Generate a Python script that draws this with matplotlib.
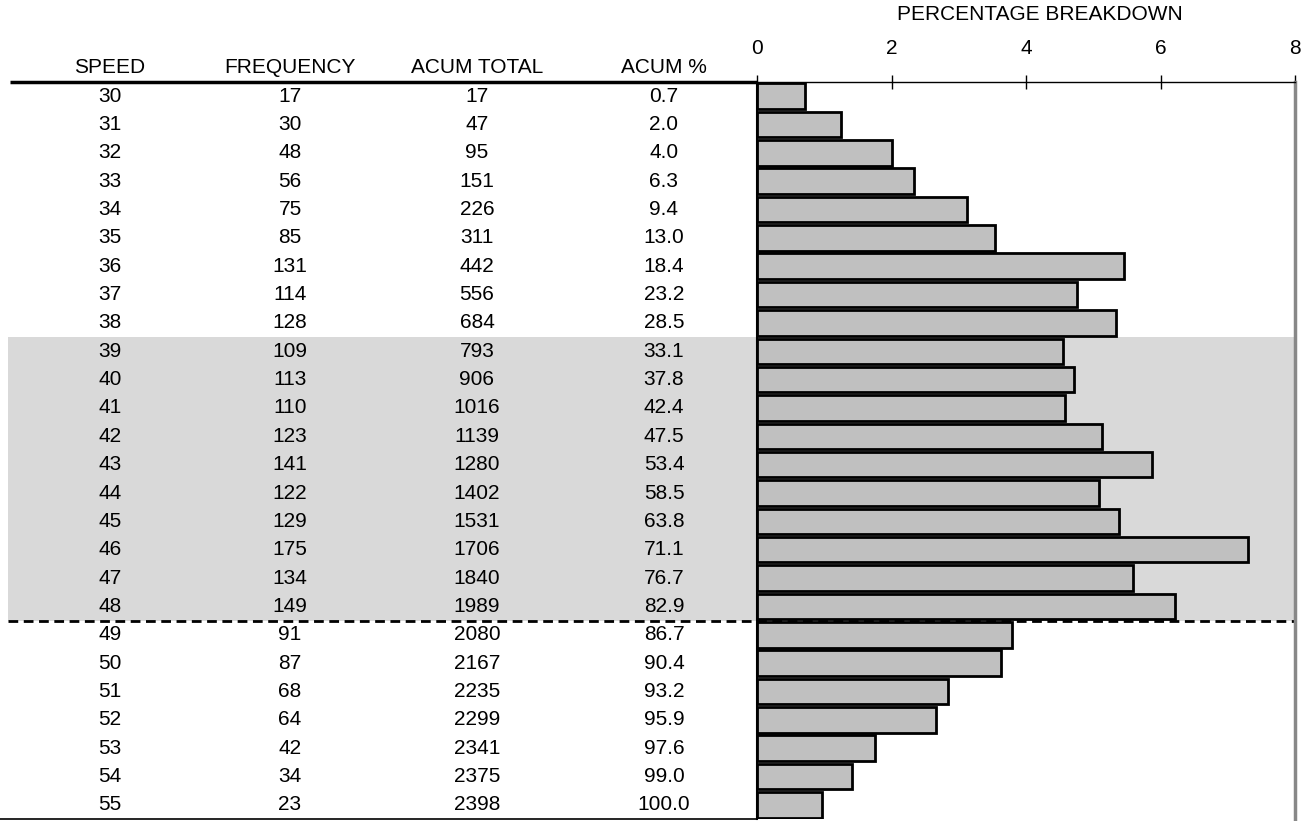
import numpy as np
import matplotlib
matplotlib.use("Agg")
import matplotlib.pyplot as plt

plt.rcParams['font.family'] = ['Liberation Sans', 'DejaVu Sans']

# dane z tabeli
speed = [30, 31, 32, 33, 34, 35, 36, 37, 38, 39, 40, 41, 42, 43,
         44, 45, 46, 47, 48, 49, 50, 51, 52, 53, 54, 55]
frequency = [17, 30, 48, 56, 75, 85, 131, 114, 128, 109, 113, 110, 123, 141,
             122, 129, 175, 134, 149, 91, 87, 68, 64, 42, 34, 23]
acum_total = [17, 47, 95, 151, 226, 311, 442, 556, 684, 793, 906, 1016, 1139, 1280,
              1402, 1531, 1706, 1840, 1989, 2080, 2167, 2235, 2299, 2341, 2375, 2398]
acum_pct = ["0.7", "2.0", "4.0", "6.3", "9.4", "13.0", "18.4", "23.2", "28.5", "33.1",
            "37.8", "42.4", "47.5", "53.4", "58.5", "63.8", "71.1", "76.7", "82.9", "86.7",
            "90.4", "93.2", "95.9", "97.6", "99.0", "100.0"]
headers = ["SPEED", "FREQUENCY", "ACUM TOTAL", "ACUM %"]
x_ticks = [0, 2, 4, 6, 8]
band_speeds = (39, 48)  # zaznaczony przedział

total = acum_total[-1]
pct = np.array(frequency) / total * 100
n = len(speed)
rows = np.arange(n)

W, H = 1310, 821
FS = 15
fig = plt.figure(figsize=(W / 100, H / 100), dpi=100)

top_px, bot_px = 82, 819
fb = 1 - bot_px / H
fh = (bot_px - top_px) / H

# oś tła z tabelą (x w pikselach)
ax_tab = fig.add_axes([0, fb, 1, fh], zorder=0)
ax_tab.set_xlim(0, W)
ax_tab.set_ylim(n - 0.5, -0.5)
ax_tab.axis("off")

i0 = speed.index(band_speeds[0])
i1 = speed.index(band_speeds[1])
ax_tab.fill_between([8, 1296], i0 - 0.5, i1 + 0.5, color="#d9d9d9", lw=0)
ax_tab.plot([8, 1296], [i1 + 0.5, i1 + 0.5], color="black", lw=2, ls=(0, (3.5, 2)))
ax_tab.plot([10, 757], [-0.5, -0.5], color="black", lw=2.5, solid_capstyle="butt", clip_on=False)
ax_tab.plot([0, 757], [n - 0.5, n - 0.5], color="black", lw=1.2, clip_on=False)

col_x = [110, 290, 477, 664]
for cx, h in zip(col_x, headers):
    ax_tab.text(cx, -1.0, h, ha="center", va="center", fontsize=FS, clip_on=False)
for i in rows:
    vals = [speed[i], frequency[i], acum_total[i], acum_pct[i]]
    for cx, v in zip(col_x, vals):
        ax_tab.text(cx, i, str(v), ha="center", va="center", fontsize=FS)

# wykres słupkowy
ax = fig.add_axes([757 / W, fb, (1295 - 757) / W, fh], zorder=1)
ax.patch.set_alpha(0)
ax.barh(rows, pct, height=0.9, color="#c0c0c0", edgecolor="black", lw=2)
ax.set_xlim(0, 8)
ax.set_ylim(n - 0.5, -0.5)
ax.set_yticks([])
ax.set_xticks(x_ticks)
ax.xaxis.tick_top()
ax.tick_params(axis="x", direction="inout", length=10, width=1, pad=12, labelsize=FS)
ax.spines["bottom"].set_visible(False)
ax.spines["left"].set_linewidth(1.5)
ax.spines["top"].set_linewidth(1)
ax.spines["right"].set_color("#888888")
ax.spines["right"].set_linewidth(2.5)

fig.text(1040 / W, 1 - 14 / H, "PERCENTAGE BREAKDOWN", ha="center", va="center", fontsize=FS)

fig.savefig("out.png", dpi=100)
